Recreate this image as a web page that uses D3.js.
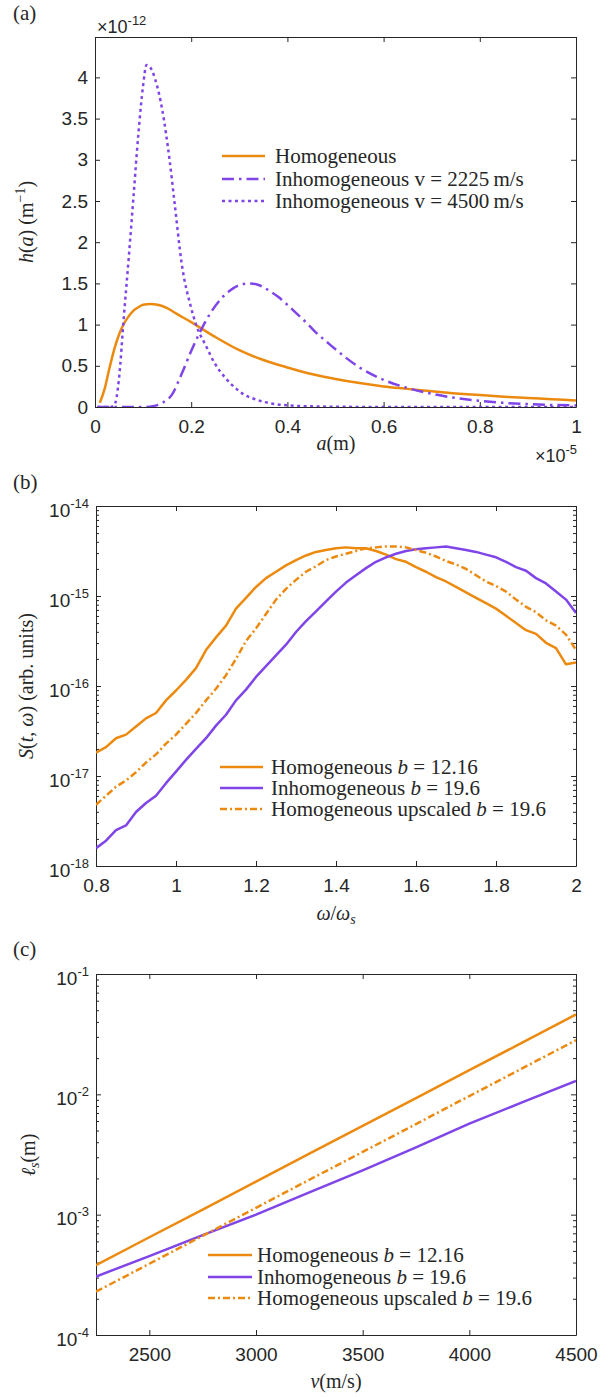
<!DOCTYPE html>
<html>
<head>
<meta charset="utf-8">
<script src="https://cdn.jsdelivr.net/npm/d3@7"></script>
<style>
  body { margin: 0; background: #fff; }
  text { fill: #262626; }
  .tick text { font-family: 'Liberation Sans', Arial, sans-serif; font-size: 19px; fill: #262626; }
  .serif { font-family: 'Liberation Serif', 'Times New Roman', serif; }
  .sans { font-family: 'Liberation Sans', Arial, sans-serif; }
</style>
</head>
<body>
<div id="chart"></div>
<script>
const orange = '#EC8A10'
const purple = '#7F45E8'

// (a) a in units of 1e-5 m, h in units of 1e-12 m^-1
const aTicks = [0, 0.2, 0.4, 0.6, 0.8, 1]
const hTicks = [0, 0.5, 1, 1.5, 2, 2.5, 3, 3.5, 4]
const aHom = [0.01, 0.02, 0.03, 0.04, 0.05, 0.06, 0.07, 0.08, 0.09, 0.10, 0.115, 0.13, 0.15, 0.17, 0.20, 0.25, 0.30, 0.35, 0.40, 0.45, 0.50, 0.55, 0.60, 0.65, 0.70, 0.75, 0.80, 0.85, 0.90, 0.95, 1.00]
const hHom = [0.05, 0.22, 0.47, 0.70, 0.88, 1.01, 1.10, 1.17, 1.21, 1.24, 1.25, 1.24, 1.20, 1.13, 1.03, 0.85, 0.69, 0.57, 0.48, 0.40, 0.34, 0.29, 0.25, 0.22, 0.19, 0.165, 0.145, 0.125, 0.11, 0.095, 0.08]
const aInh2225 = [0.005, 0.10, 0.12, 0.14, 0.16, 0.18, 0.20, 0.22, 0.24, 0.26, 0.28, 0.30, 0.32, 0.34, 0.36, 0.38, 0.40, 0.42, 0.44, 0.46, 0.48, 0.50, 0.55, 0.60, 0.65, 0.70, 0.75, 0.80, 0.85, 0.90, 0.95, 1.00]
const hInh2225 = [0, 0, 0.01, 0.05, 0.15, 0.40, 0.68, 0.93, 1.14, 1.30, 1.41, 1.48, 1.50, 1.48, 1.42, 1.34, 1.24, 1.13, 1.02, 0.90, 0.80, 0.70, 0.48, 0.33, 0.23, 0.16, 0.11, 0.075, 0.05, 0.035, 0.025, 0.018]
const aInh4500 = [0.005, 0.03, 0.04, 0.05, 0.06, 0.07, 0.08, 0.09, 0.10, 0.107, 0.115, 0.125, 0.14, 0.155, 0.165, 0.18, 0.20, 0.21, 0.23, 0.25, 0.27, 0.29, 0.31, 0.33, 0.36, 0.40, 0.45, 0.50, 0.60, 1.00]
const hInh4500 = [0, 0, 0.02, 0.35, 1.10, 1.80, 2.55, 3.30, 3.90, 4.15, 4.12, 3.98, 3.60, 3.00, 2.50, 1.75, 1.20, 1.00, 0.75, 0.52, 0.36, 0.24, 0.15, 0.10, 0.05, 0.02, 0.008, 0.003, 0, 0]

// (b) spectra
const wTicks = [0.8, 1, 1.2, 1.4, 1.6, 1.8, 2]
const sTicks = [1e-18, 1e-17, 1e-16, 1e-15, 1e-14]
const omega = [0.8, 0.825, 0.85, 0.875, 0.9, 0.925, 0.95, 0.975, 1.0, 1.025, 1.05, 1.075, 1.1, 1.125, 1.15, 1.175, 1.2, 1.225, 1.25, 1.275, 1.3, 1.325, 1.35, 1.375, 1.4, 1.425, 1.45, 1.475, 1.5, 1.525, 1.55, 1.575, 1.6, 1.625, 1.65, 1.675, 1.7, 1.725, 1.75, 1.775, 1.8, 1.825, 1.85, 1.875, 1.9, 1.925, 1.95, 1.975, 2.0]
const sHom = [1.82e-17, 2.09e-17, 2.63e-17, 2.88e-17, 3.55e-17, 4.37e-17, 5.01e-17, 6.92e-17, 8.91e-17, 1.17e-16, 1.58e-16, 2.51e-16, 3.47e-16, 4.68e-16, 7.24e-16, 9.55e-16, 1.26e-15, 1.58e-15, 1.86e-15, 2.19e-15, 2.51e-15, 2.82e-15, 3.09e-15, 3.24e-15, 3.39e-15, 3.47e-15, 3.39e-15, 3.39e-15, 3.16e-15, 2.88e-15, 2.57e-15, 2.40e-15, 2.09e-15, 1.86e-15, 1.62e-15, 1.45e-15, 1.26e-15, 1.10e-15, 9.55e-16, 8.32e-16, 7.24e-16, 6.03e-16, 5.01e-16, 4.17e-16, 3.80e-16, 3.02e-16, 2.63e-16, 1.74e-16, 1.82e-16]
const sInh = [1.58e-18, 1.91e-18, 2.51e-18, 2.82e-18, 3.98e-18, 5.01e-18, 6.03e-18, 8.32e-18, 1.12e-17, 1.51e-17, 2.00e-17, 2.63e-17, 3.63e-17, 4.79e-17, 6.92e-17, 9.12e-17, 1.26e-16, 1.66e-16, 2.19e-16, 2.88e-16, 3.98e-16, 5.25e-16, 6.76e-16, 8.71e-16, 1.12e-15, 1.41e-15, 1.70e-15, 2.04e-15, 2.40e-15, 2.69e-15, 2.95e-15, 3.16e-15, 3.31e-15, 3.39e-15, 3.47e-15, 3.55e-15, 3.39e-15, 3.24e-15, 3.09e-15, 2.88e-15, 2.69e-15, 2.40e-15, 2.09e-15, 1.91e-15, 1.58e-15, 1.38e-15, 1.12e-15, 9.12e-16, 6.46e-16]
const sHomUp = [4.79e-18, 6.03e-18, 7.59e-18, 8.91e-18, 1.10e-17, 1.41e-17, 1.74e-17, 2.29e-17, 2.88e-17, 3.80e-17, 5.01e-17, 6.92e-17, 9.33e-17, 1.32e-16, 2.00e-16, 3.16e-16, 4.37e-16, 6.31e-16, 9.12e-16, 1.20e-15, 1.51e-15, 1.86e-15, 2.14e-15, 2.51e-15, 2.75e-15, 2.95e-15, 3.16e-15, 3.39e-15, 3.47e-15, 3.55e-15, 3.55e-15, 3.47e-15, 3.24e-15, 3.02e-15, 2.75e-15, 2.45e-15, 2.24e-15, 2.00e-15, 1.70e-15, 1.45e-15, 1.29e-15, 1.12e-15, 9.12e-16, 7.59e-16, 6.61e-16, 5.37e-16, 4.68e-16, 3.72e-16, 2.51e-16]

// (c) scattering length vs velocity
const vTicks = [2500, 3000, 3500, 4000, 4500]
const lTicks = [1e-4, 1e-3, 1e-2, 1e-1]
const velocity = [2250, 2500, 2750, 3000, 3250, 3500, 3750, 4000, 4250, 4500]
const lHom = [3.80e-4, 6.49e-4, 1.10e-3, 1.88e-3, 3.21e-3, 5.47e-3, 9.31e-3, 1.59e-2, 2.70e-2, 4.61e-2]
const lInh = [3.06e-4, 4.53e-4, 6.76e-4, 1.00e-3, 1.53e-3, 2.33e-3, 3.63e-3, 5.70e-3, 8.61e-3, 1.29e-2]
const lHomUp = [2.29e-4, 3.91e-4, 6.67e-4, 1.14e-3, 1.95e-3, 3.32e-3, 5.66e-3, 9.68e-3, 1.65e-2, 2.82e-2]

const svg = d3.select('#chart')
  .append('svg')
  .attr('width', 615)
  .attr('height', 1397)

svg.append('rect').attr('width', 615).attr('height', 1397).attr('fill', '#fff')

// draws a boxed MATLAB style axes with inward ticks
function drawAxes(id, x, y, xTicks, xFmt, yTicks, yFmt, logY) {
  const [x0, x1] = x.range()
  const [y1, y0] = y.range()
  const g = svg.append('g').attr('color', '#262626')

  g.append('g')
    .attr('transform', 'translate(0,' + y1 + ')')
    .call(d3.axisBottom(x).tickValues(xTicks).tickFormat(xFmt).tickSize(-5).tickSizeOuter(0).tickPadding(13))
  g.append('g')
    .attr('transform', 'translate(0,' + y0 + ')')
    .call(d3.axisTop(x).tickValues(xTicks).tickFormat('').tickSize(-5).tickSizeOuter(0))

  const left = g.append('g')
    .attr('transform', 'translate(' + x0 + ',0)')
    .call(d3.axisLeft(y).tickValues(yTicks).tickFormat(yFmt).tickSize(-5).tickSizeOuter(0).tickPadding(7))
  g.append('g')
    .attr('transform', 'translate(' + x1 + ',0)')
    .call(d3.axisRight(y).tickValues(yTicks).tickFormat('').tickSize(-5).tickSizeOuter(0))

  if (logY) {
    const minor = []
    yTicks.slice(0, -1).forEach(t => {
      for (let k = 2; k < 10; k++) minor.push(t * k)
    })
    g.append('g')
      .attr('transform', 'translate(' + x0 + ',0)')
      .call(d3.axisLeft(y).tickValues(minor).tickFormat('').tickSize(-3).tickSizeOuter(0))
      .select('.domain').remove()
    g.append('g')
      .attr('transform', 'translate(' + x1 + ',0)')
      .call(d3.axisRight(y).tickValues(minor).tickFormat('').tickSize(-3).tickSizeOuter(0))
      .select('.domain').remove()

    // 10^n labels
    left.selectAll('.tick text').each(function(d) {
      const e = Math.round(Math.log10(d))
      const t = d3.select(this).text(null).attr('dy', 10)
      t.append('tspan').text('10')
      t.append('tspan').attr('dy', -9).style('font-size', '13px').text(e)
    })
  }

  svg.append('clipPath')
    .attr('id', id)
    .append('rect')
    .attr('x', x0)
    .attr('y', y0)
    .attr('width', x1 - x0)
    .attr('height', y1 - y0)
}

function drawLine(xs, ys, x, y, clip, color, dash, curve) {
  const line = d3.line()
    .x(d => x(d[0]))
    .y(d => y(d[1]))
    .curve(curve || d3.curveLinear)
  svg.append('path')
    .datum(d3.zip(xs, ys))
    .attr('clip-path', 'url(#' + clip + ')')
    .attr('fill', 'none')
    .attr('stroke', color)
    .attr('stroke-width', 2.5)
    .attr('stroke-linejoin', 'round')
    .attr('stroke-dasharray', dash)
    .attr('d', line)
}

function legend(items, lx0, lx1, tx, rows) {
  items.forEach((it, i) => {
    svg.append('line')
      .attr('x1', lx0).attr('x2', lx1)
      .attr('y1', rows[i]).attr('y2', rows[i])
      .attr('stroke', it.color)
      .attr('stroke-width', 2.5)
      .attr('stroke-dasharray', it.dash)
    const t = svg.append('text')
      .attr('class', 'serif')
      .attr('x', tx)
      .attr('y', rows[i] + 7)
      .attr('font-size', 21)
    it.parts.forEach(p => {
      t.append('tspan').attr('font-style', p[1] ? 'italic' : null).text(p[0])
    })
  })
}

function label(x, y, parts, rotate, anchor, size) {
  const t = svg.append('text')
    .attr('class', 'serif')
    .attr('font-size', size || 20)
    .attr('text-anchor', anchor || 'middle')
    .attr('transform', 'translate(' + x + ',' + y + ')' + (rotate ? ' rotate(-90)' : ''))
  parts.forEach(p => {
    const s = t.append('tspan').text(p.t)
    if (p.i) s.attr('font-style', 'italic')
    if (p.dy) s.attr('dy', p.dy)
    if (p.fs) s.attr('font-size', p.fs)
  })
  return t
}

const dashDotA = '12 5 2.5 5'
const dotA = '3 3.5'
const dashDotB = '7 3 2 3'

/* panel (a) */
const xA = d3.scaleLinear().domain([0, 1]).range([95, 576])
const yA = d3.scaleLinear().domain([0, 4.49]).range([407, 37])
drawAxes('clipA', xA, yA, aTicks, d3.format('~g'), hTicks, d3.format('~g'), false)
drawLine(aHom, hHom, xA, yA, 'clipA', orange, null, d3.curveMonotoneX)
drawLine(aInh2225, hInh2225, xA, yA, 'clipA', purple, dashDotA, d3.curveMonotoneX)
drawLine(aInh4500, hInh4500, xA, yA, 'clipA', purple, dotA, d3.curveMonotoneX)

legend([
  { color: orange, dash: null, parts: [['Homogeneous']] },
  { color: purple, dash: dashDotA, parts: [['Inhomogeneous v = 2225\u2009m/s']] },
  { color: purple, dash: dotA, parts: [['Inhomogeneous v = 4500\u2009m/s']] }
], 222, 265, 275, [156, 179, 201])

label(13, 20, [{ t: '(a)' }], false, 'start', 21)
label(33, 222, [{ t: 'h', i: true }, { t: '(' }, { t: 'a', i: true }, { t: ') (m' }, { t: '\u22121', dy: -8, fs: 14 }, { t: ')', dy: 8 }], true)
label(336, 450, [{ t: 'a', i: true }, { t: '(m)' }])

const expA = svg.append('text').attr('class', 'sans').attr('x', 97).attr('y', 33).attr('font-size', 18)
expA.append('tspan').text('\u00d710')
expA.append('tspan').attr('dy', -8).attr('font-size', 13).text('-12')
const expX = svg.append('text').attr('class', 'sans').attr('x', 577).attr('y', 462).attr('font-size', 18).attr('text-anchor', 'end')
expX.append('tspan').text('\u00d710')
expX.append('tspan').attr('dy', -8).attr('font-size', 13).text('-5')

/* panel (b) */
const xB = d3.scaleLinear().domain([0.8, 2]).range([96, 576])
const yB = d3.scaleLog().domain([1e-18, 1e-14]).range([866, 506])
drawAxes('clipB', xB, yB, wTicks, d3.format('~g'), sTicks, null, true)
drawLine(omega, sHom, xB, yB, 'clipB', orange, null)
drawLine(omega, sInh, xB, yB, 'clipB', purple, null)
drawLine(omega, sHomUp, xB, yB, 'clipB', orange, dashDotB)

legend([
  { color: orange, dash: null, parts: [['Homogeneous '], ['b', true], [' = 12.16']] },
  { color: purple, dash: null, parts: [['Inhomogeneous '], ['b', true], [' = 19.6']] },
  { color: orange, dash: dashDotB, parts: [['Homogeneous upscaled '], ['b', true], [' = 19.6']] }
], 220, 263, 271, [767, 788, 809])

label(13, 489, [{ t: '(b)' }], false, 'start', 21)
label(33, 686, [{ t: 'S', i: true }, { t: '(' }, { t: 't', i: true }, { t: ', ' }, { t: '\u03c9', i: true }, { t: ') (arb. units)' }], true)
label(336, 920, [{ t: '\u03c9', i: true }, { t: '/' }, { t: '\u03c9', i: true }, { t: 's', i: true, dy: 4, fs: 14 }])

/* panel (c) */
const xC = d3.scaleLinear().domain([2250, 4500]).range([96, 576])
const yC = d3.scaleLog().domain([1e-4, 1e-1]).range([1335, 974])
drawAxes('clipC', xC, yC, vTicks, d3.format('d'), lTicks, null, true)
drawLine(velocity, lHom, xC, yC, 'clipC', orange, null)
drawLine(velocity, lInh, xC, yC, 'clipC', purple, null)
drawLine(velocity, lHomUp, xC, yC, 'clipC', orange, dashDotB)

legend([
  { color: orange, dash: null, parts: [['Homogeneous '], ['b', true], [' = 12.16']] },
  { color: purple, dash: null, parts: [['Inhomogeneous '], ['b', true], [' = 19.6']] },
  { color: orange, dash: dashDotB, parts: [['Homogeneous upscaled '], ['b', true], [' = 19.6']] }
], 208, 252, 257, [1255, 1277, 1298])

label(13, 956, [{ t: '(c)' }], false, 'start', 21)
label(35, 1155, [{ t: '\u2113', i: true }, { t: 's', i: true, dy: 4, fs: 14 }, { t: '(m)', dy: -4 }], true)
label(336, 1388, [{ t: 'v', i: true }, { t: '(m/s)' }])
</script>
</body>
</html>
